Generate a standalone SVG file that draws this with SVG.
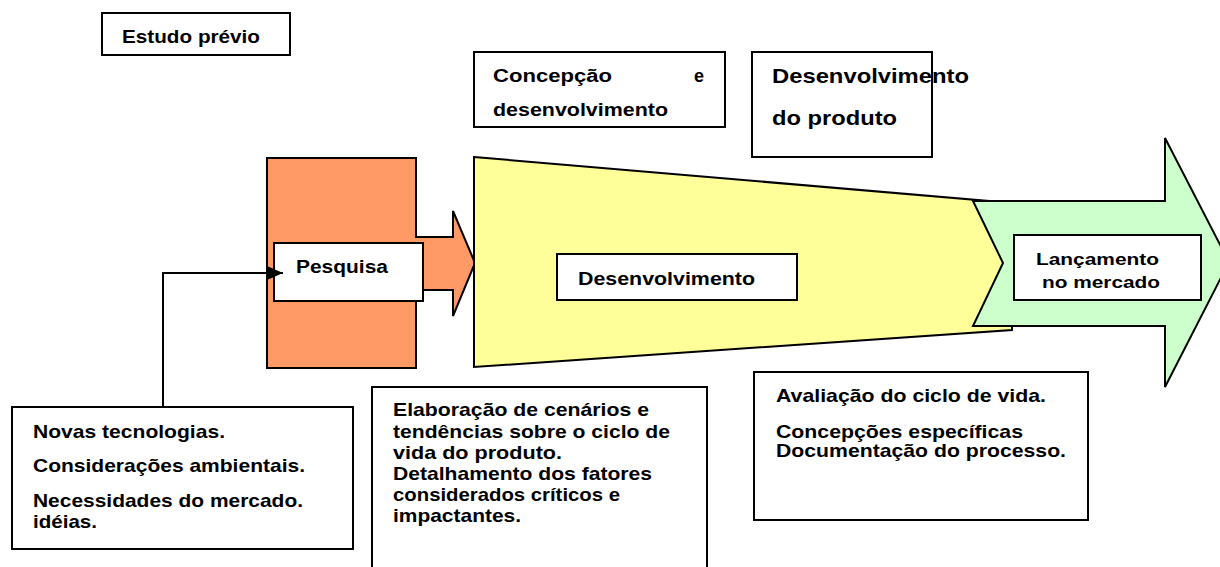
<svg xmlns="http://www.w3.org/2000/svg" width="1220" height="567" viewBox="0 0 1220 567">
<style>
text{font-family:"Liberation Sans",Arial,sans-serif;font-weight:bold;fill:#000}
.box{fill:#fff;stroke:#000;stroke-width:2}
.shape{stroke:#000;stroke-width:2;stroke-linejoin:miter}
.f18{font-size:19px}
.f17{font-size:18px}
.f16{font-size:17px}
.f20{font-size:21px}
.conn{fill:none;stroke:#000;stroke-width:2}
</style>
<defs>
<marker id="arr" viewBox="0 0 16 14" refX="16" refY="7" markerWidth="16" markerHeight="14" markerUnits="userSpaceOnUse" orient="auto">
<path d="M0,0 L16,7 L0,14 z" fill="#000"/>
</marker>
<clipPath id="clipConc"><rect x="474" y="52" width="251" height="65"/></clipPath>
</defs>
<rect width="1220" height="567" fill="#fff"/>

<g id="estudo">
<rect class="box" x="102" y="13" width="188" height="42"/>
<text class="f18" x="122" y="43" textLength="138" lengthAdjust="spacingAndGlyphs">Estudo prévio</text>
</g>

<g id="concepcao">
<rect class="box" x="474" y="52" width="251" height="75"/>
<g clip-path="url(#clipConc)">
<text class="f17" x="493" y="82" textLength="119" lengthAdjust="spacingAndGlyphs">Concepção</text>
<text class="f17" x="694" y="82">e</text>
<text class="f17" x="493" y="116" textLength="175" lengthAdjust="spacingAndGlyphs">desenvolvimento</text>
</g>
</g>

<g id="desenv-produto">
<rect class="box" x="752" y="52" width="180" height="105"/>
<text class="f20" x="772" y="83" textLength="197" lengthAdjust="spacingAndGlyphs">Desenvolvimento</text>
<text class="f20" x="772" y="125" textLength="125" lengthAdjust="spacingAndGlyphs">do produto</text>
</g>

<g id="pesquisa-shape">
<path class="shape" fill="#FF9966" d="M267,158 H416 V237 H453 V211 L475,263 L453,316 V290 H416 V368 H267 Z"/>
</g>

<g id="desenv-shape">
<polygon class="shape" fill="#FFFF99" points="474,157 1012,203 1012,330 474,367"/>
</g>

<g id="lancamento-shape">
<polygon class="shape" fill="#CCFFCC" points="973,201 1165,201 1165,138 1229,262 1165,387 1165,326 973,326 1003,263"/>
</g>

<g id="pesquisa">
<rect class="box" x="274" y="243" width="149" height="58"/>
<text class="f17" x="296" y="273" textLength="92" lengthAdjust="spacingAndGlyphs">Pesquisa</text>
</g>

<g id="desenvolvimento">
<rect class="box" x="557" y="254" width="240" height="46"/>
<text class="f17" x="578" y="285" textLength="177" lengthAdjust="spacingAndGlyphs">Desenvolvimento</text>
</g>

<g id="lancamento">
<rect class="box" x="1014" y="235" width="187" height="65"/>
<text class="f16" x="1036" y="265" textLength="123" lengthAdjust="spacingAndGlyphs">Lançamento</text>
<text class="f16" x="1042" y="288" textLength="118" lengthAdjust="spacingAndGlyphs">no mercado</text>
</g>

<g id="novas">
<rect class="box" x="12" y="407" width="341" height="142"/>
<text class="f18" x="33" y="438" textLength="192" lengthAdjust="spacingAndGlyphs">Novas tecnologias.</text>
<text class="f18" x="33" y="472" textLength="272" lengthAdjust="spacingAndGlyphs">Considerações ambientais.</text>
<text class="f18" x="33" y="507" textLength="270" lengthAdjust="spacingAndGlyphs">Necessidades do mercado.</text>
<text class="f18" x="33" y="528" textLength="64" lengthAdjust="spacingAndGlyphs">idéias.</text>
</g>

<g id="elaboracao">
<rect class="box" x="372" y="387" width="335" height="190"/>
<text class="f18" x="393" y="416" textLength="256" lengthAdjust="spacingAndGlyphs">Elaboração de cenários e</text>
<text class="f18" x="393" y="437.5" textLength="277" lengthAdjust="spacingAndGlyphs">tendências sobre o ciclo de</text>
<text class="f18" x="393" y="459" textLength="169" lengthAdjust="spacingAndGlyphs">vida do produto.</text>
<text class="f18" x="393" y="480" textLength="259" lengthAdjust="spacingAndGlyphs">Detalhamento dos fatores</text>
<text class="f18" x="393" y="501" textLength="227" lengthAdjust="spacingAndGlyphs">considerados críticos e</text>
<text class="f18" x="393" y="522" textLength="128" lengthAdjust="spacingAndGlyphs">impactantes.</text>
</g>

<g id="avaliacao">
<rect class="box" x="754" y="372" width="334" height="148"/>
<text class="f18" x="776" y="402" textLength="270" lengthAdjust="spacingAndGlyphs">Avaliação do ciclo de vida.</text>
<text class="f18" x="776" y="438" textLength="247" lengthAdjust="spacingAndGlyphs">Concepções específicas</text>
<text class="f18" x="776" y="457" textLength="290" lengthAdjust="spacingAndGlyphs">Documentação do processo.</text>
</g>

<g id="connectors">
<path class="conn" d="M163,407 V273 H283" marker-end="url(#arr)"/>
</g>
</svg>
